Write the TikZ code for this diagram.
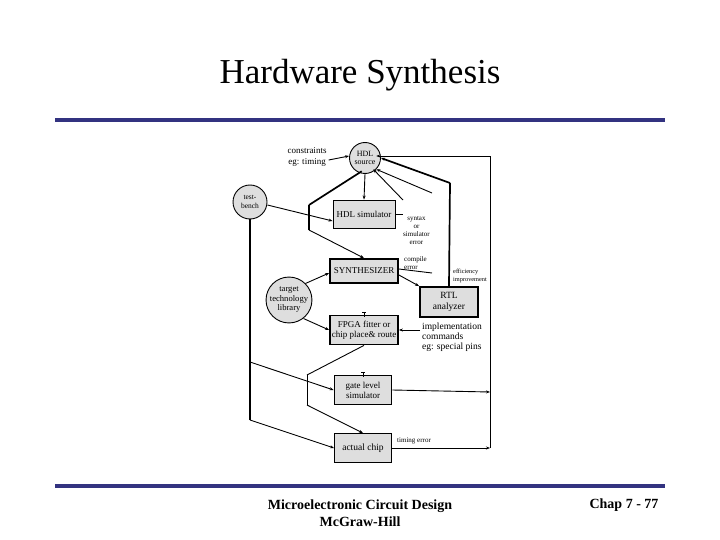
\documentclass[tikz,border=0pt]{standalone}
\usepackage{fontspec}
\setmainfont{Liberation Serif}
\usetikzlibrary{arrows.meta}
\definecolor{rulebl}{RGB}{51,51,128}
\definecolor{boxgray}{RGB}{222,222,222}
\tikzset{
  bx/.style={draw, fill=boxgray, line width=0.9pt, minimum width=#1, align=center, inner sep=1pt, font=\fontsize{9}{10}\selectfont},
  bx/.default=62pt,
  thickbx/.style={bx=#1, line width=1.8pt},
  thickbx/.default=68pt,
  circ/.style={draw, circle, fill=boxgray, line width=0.9pt, align=center, inner sep=0pt, font=\fontsize{8}{8.5}\selectfont},
  lbl/.style={align=left, inner sep=0pt, font=\fontsize{7}{8}\selectfont},
  ln/.style={line width=0.9pt},
  tk/.style={line width=1.7pt},
  ar/.style={-{Stealth[length=4pt,width=3pt]}},
  tee/.style={line width=0.8pt}
}
\begin{document}
\begin{tikzpicture}[x=1pt,y=-1pt]
\useasboundingbox (0,0) rectangle (720,540);
% title and rules
\node (title) at (360,75) {\fontsize{35}{40}\selectfont Hardware Synthesis};
\draw[rulebl, line width=4pt] (55,120) coordinate (r1a) -- (665,120) coordinate (r1b);
\draw[rulebl, line width=4pt] (55,486) coordinate (r2a) -- (665,486) coordinate (r2b);
\node[align=center, font=\bfseries\fontsize{14}{17}\selectfont] (foot) at (360,513) {Microelectronic Circuit Design\\McGraw-Hill};
\node[font=\bfseries\fontsize{14}{17}\selectfont] (chap) at (624,505) {Chap 7 - 77};

% nodes
\node[circ, minimum size=31pt] (src) at (365,158) {HDL\\source};
\node[circ, minimum size=34pt, font=\fontsize{7.5}{8.5}\selectfont] (tb) at (250,202) {test-\\bench};
\node[circ, minimum size=44pt, font=\fontsize{8.6}{9.5}\selectfont] (lib) at (289,300) {target\\technology\\library};
\node[bx=62pt, minimum height=28pt] (sim) at (364,214) {HDL simulator};
\node[thickbx=68pt, minimum height=24pt] (syn) at (364,271) {SYNTHESIZER};
\node[thickbx=68pt, minimum height=29pt] (fpga) at (364,330) {FPGA fitter or\\chip place\& route};
\node[thickbx=58pt, minimum height=30pt, font=\fontsize{9.5}{11}\selectfont] (rtl) at (449,302) {RTL\\analyzer};
\node[thickbx=57pt, minimum height=29pt] (gate) at (363,390) {gate level\\simulator};
\node[bx=57pt, minimum height=29pt, font=\fontsize{9.5}{11}\selectfont] (chip) at (363,448) {actual chip};

% labels
\node[lbl, align=center, font=\fontsize{9}{10.5}\selectfont] (cons) at (307,157) {constraints\\eg: timing};
\node[lbl, align=center, anchor=north west] (synerr) at (403,216) {syntax\\or\\simulator\\error};
\node[lbl, align=left, anchor=south west] (comperr) at (404,270) {compile\\error};
\node[lbl, anchor=west, font=\fontsize{6.3}{7.5}\selectfont] (eff) at (453,276) {efficiency\\improvement};
\node[lbl, anchor=west, font=\fontsize{9.5}{10}\selectfont] (impl) at (422,337) {implementation\\commands\\eg: special pins};
\node[lbl, anchor=west] (terr) at (397,441) {timing error};

% coordinates
\coordinate (a1) at (309,205);
\coordinate (a2) at (309,230);
\coordinate (b1) at (307,375);
\coordinate (b2) at (307,405);
\coordinate (t1) at (250,362);
\coordinate (t2) at (250,420);
\coordinate (fb) at (490,156);
\coordinate (fg) at (490,392);
\coordinate (fc) at (490,448);
\coordinate (rt) at (450,183);
\coordinate (ce) at (432,193);
\coordinate (ce2) at (432,273);
\coordinate (se) at (403,200);
\coordinate (se2) at (403,214);

% connectors
\draw[ln, ar] (cons.east |- src.west) ++(2,2) -- ([yshift=2pt]src.west);
\draw[ln, ar] (src.south) -- (sim.north);
\draw[tk] (src.south west) ++(8,2) -- (a1);
\draw[tk] (a1) -- (a2);
\draw[ln, ar] (a2) -- (syn.north);
\draw[ln, ar] (tb.east) ++(0,3) -- ([yshift=-7pt]sim.west);
\draw[tk] (tb.south) -- (t2);
\draw[ln, ar] (t1) -- (gate.west);
\draw[ln, ar] (t2) -- (chip.west);
\draw[ln, ar] (lib.north east) -- ([yshift=-2pt]syn.west);
\draw[ln, ar] (lib.south east) ++(-2,2) -- (fpga.west);
\draw[ln] (fpga.south) -- (b1);
\draw[ln] (b1) -- (b2);
\draw[ln, ar] (b2) -- (chip.north);
\draw[ln, ar] ([yshift=-4pt]syn.east) -- (rtl.north west);
\draw[ln, ar] (impl.west |- fpga.east) ++(-2,0) -- (fpga.east);
\draw[ln] (sim.east) -- (se2);
\draw[ln] ([yshift=2pt]syn.east) -- (ce2);
% feedback
\draw[tk] (rtl.north) -- (rt);
\draw[tk, ar] (rt) -- (src.east);
\draw[ln, ar] (ce) -- (src.south east);
\draw[ln, ar] (se) -- ([xshift=-3pt]src.south east);
\draw[ln, ar] (gate.east) -- (fg);
\draw[ln, ar] (chip.east) -- (fc);
\draw[ln] (fc) -- (fb);
\draw[ln, ar] (fb) -- ([yshift=2pt]src.north east |- src.east) ;
% small tee marks
\draw[tee] ([yshift=-2pt]fpga.north) -- ++(0,-4) coordinate (tf);
\draw[tee] ([xshift=-2pt]tf) -- ([xshift=2pt]tf);
\draw[tee] ([yshift=-2pt]gate.north) -- ++(0,-4) coordinate (tg);
\draw[tee] ([xshift=-2pt]tg) -- ([xshift=2pt]tg);
\end{tikzpicture}
\end{document}
